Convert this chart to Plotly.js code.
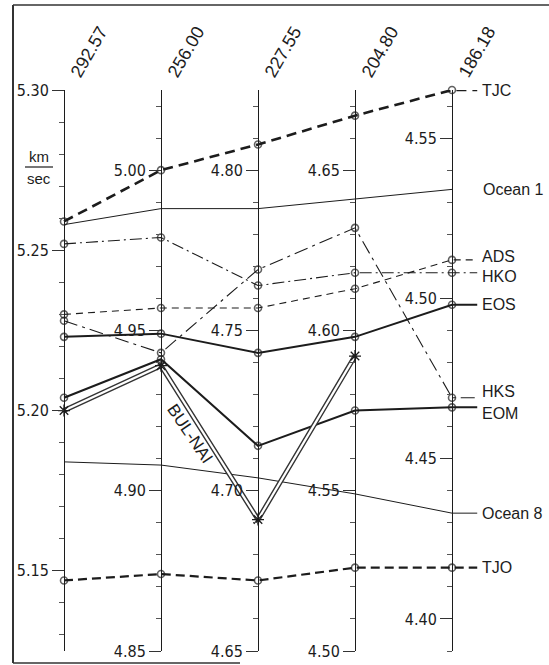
<!DOCTYPE html>
<html><head><meta charset="utf-8">
<script src="https://cdn.plot.ly/plotly-3.0.1.min.js"></script>
<style>html,body{margin:0;padding:0;background:#fff}#chart{width:549px;height:665px}</style>
</head><body><div id="chart"></div>
<script>
// category labels above each vertical scale
const periods = ['292.57', '256.00', '227.55', '204.80', '186.18'];

// values (km/sec) read on each of the five vertical scales
const TJC    = [5.259, 5.000, 4.808, 4.667, 4.565];
const Ocean1 = [5.258, 4.988, 4.788, 4.641, 4.534];
const ADS    = [5.230, 4.957, 4.757, 4.613, 4.512];
const HKO    = [5.252, 4.979, 4.764, 4.618, 4.508];
const EOS    = [5.223, 4.949, 4.743, 4.598, 4.498];
const HKS    = [5.228, 4.943, 4.769, 4.632, 4.469];
const EOM    = [5.204, 4.941, 4.714, 4.575, 4.466];
const BULNAI = [5.200, 4.939, 4.691, 4.592];
const Ocean8 = [5.184, 4.908, 4.704, 4.549, 4.433];
const TJO    = [5.147, 4.874, 4.672, 4.526, 4.416];

// each scale is the first scale shifted by this amount (same km/sec per unit length)
const axisOffset = [0, 0.275, 0.475, 0.625, 0.735];
const axis1Range = [5.125, 5.300];

const W = 549, H = 665, X0 = 64, DX = 97, TOP = 90, BOT = 651;
const xr = [-X0 / DX, (W - X0) / DX];
const dom = [1 - BOT / H, 1 - TOP / H];
const px = v => v / W, py = v => 1 - v / H;
const INK = '#1c1c1c';

function common(vals) { return vals.map((v, i) => v - axisOffset[0] + axisOffset[i]); }

const series = [
  {name: 'TJC', vals: TJC, width: 2.6, dash: '10px,6px', marker: true, conn: true},
  {name: 'Ocean 1', vals: Ocean1, width: 1, dash: 'solid', marker: false, conn: false},
  {name: 'ADS', vals: ADS, width: 1.1, dash: '7px,5px', marker: true, conn: true, shift: 3},
  {name: 'HKO', vals: HKO, width: 1.1, dash: '12px,4px,2px,4px', marker: true, conn: true, shift: -4},
  {name: 'EOS', vals: EOS, width: 2, dash: 'solid', marker: true, conn: true},
  {name: 'HKS', vals: HKS, width: 1.1, dash: '14px,5px,3px,5px', marker: true, conn: true, shift: 6},
  {name: 'EOM', vals: EOM, width: 2, dash: 'solid', marker: true, conn: true, shift: -6},
  {name: 'Ocean 8', vals: Ocean8, width: 1, dash: 'solid', marker: false, conn: true},
  {name: 'TJO', vals: TJO, width: 2.2, dash: '9px,5px', marker: true, conn: true}
];

const CONN_X = 4.26;
const traces = [];
const annotations = [];

series.forEach(s => {
  const y = common(s.vals);
  const x = s.vals.map((_, i) => i);
  if (s.conn) { x.push(CONN_X); y.push(y[y.length - 1]); }
  traces.push({
    type: 'scatter', mode: s.marker ? 'lines+markers' : 'lines', x: x, y: y,
    xaxis: 'x', yaxis: 'y', cliponaxis: false, hoverinfo: 'skip', showlegend: false,
    line: {color: INK, width: s.width, dash: s.dash},
    marker: {symbol: 'circle-open', color: INK, size: y.map((_, i) => i < s.vals.length ? 7 : 0), line: {width: 1.6, color: INK}}
  });
  annotations.push({
    x: s.conn ? CONN_X + 0.03 : 4.30, y: common(s.vals)[s.vals.length - 1], xref: 'x', yref: 'y',
    xanchor: 'left', yanchor: 'middle', showarrow: false, text: s.name, yshift: s.shift || 0,
    font: {size: 16, color: INK, family: 'Liberation Sans, Arial, sans-serif'}
  });
});

// BUL-NAI: double line (dark wide line with white core) and asterisk markers
const bx = BULNAI.map((_, i) => i), by = common(BULNAI);
traces.push({type: 'scatter', mode: 'lines', x: bx, y: by, cliponaxis: false, hoverinfo: 'skip', showlegend: false,
  line: {color: '#333', width: 5}});
traces.push({type: 'scatter', mode: 'lines', x: bx, y: by, cliponaxis: false, hoverinfo: 'skip', showlegend: false,
  line: {color: '#fff', width: 2.2}});
traces.push({type: 'scatter', mode: 'markers', x: bx, y: by, cliponaxis: false, hoverinfo: 'skip', showlegend: false,
  marker: {symbol: 'asterisk-open', size: 10, color: INK, line: {width: 1.3, color: INK}}});

function axisDef(i) {
  const off = axisOffset[i];
  const a = {
    domain: dom, range: [axis1Range[0] - off - 1e-6, axis1Range[1] - off + 1e-6],
    anchor: 'free', position: (X0 + i * DX) / W, side: 'left',
    showline: true, linecolor: INK, linewidth: 1,
    ticks: 'outside', ticklen: 12, tickwidth: 1, tickcolor: '#333',
    tickmode: 'linear', tick0: 5.0, dtick: 0.05, tickformat: '.2f',
    tickfont: {size: 16, color: INK, family: 'Liberation Sans Narrow, DejaVu Sans Condensed, Arial Narrow, sans-serif'},
    showgrid: false, zeroline: false, fixedrange: true,
    minor: {dtick: 0.01, tick0: 5.0, ticklen: 5, tickwidth: 1, tickcolor: '#555', showgrid: false, ticks: 'outside'}
  };
  if (i > 0) a.overlaying = 'y';
  return a;
}

// invisible traces so every scale has data bound to it
for (let i = 1; i < 5; i++) {
  traces.push({type: 'scatter', mode: 'markers', x: [i], y: [axis1Range[1] - axisOffset[i]], yaxis: 'y' + (i + 1),
    marker: {opacity: 0}, hoverinfo: 'skip', showlegend: false});
}

periods.forEach((p, i) => {
  annotations.push({x: i, xref: 'x', y: py(84), yref: 'paper', text: p, textangle: -60,
    xanchor: 'left', yanchor: 'bottom', showarrow: false,
    font: {size: 18, color: INK, family: 'Liberation Sans, Arial, sans-serif'}});
});

annotations.push({x: px(39), y: py(156), xref: 'paper', yref: 'paper', text: 'km', showarrow: false,
  xanchor: 'center', yanchor: 'middle', font: {size: 15, color: INK}});
annotations.push({x: px(39), y: py(178), xref: 'paper', yref: 'paper', text: 'sec', showarrow: false,
  xanchor: 'center', yanchor: 'middle', font: {size: 15, color: INK}});
annotations.push({x: px(190), y: py(433), xref: 'paper', yref: 'paper', text: 'BUL-NAI', showarrow: false,
  textangle: 56, xanchor: 'center', yanchor: 'middle', font: {size: 17, color: INK}});

const layout = {
  width: W, height: H, margin: {l: 0, r: 0, t: 0, b: 0},
  paper_bgcolor: '#fff', plot_bgcolor: 'rgba(0,0,0,0)',
  font: {family: 'Liberation Sans, Arial, sans-serif', color: INK},
  showlegend: false,
  xaxis: {range: xr, visible: false, fixedrange: true},
  yaxis: axisDef(0), yaxis2: axisDef(1), yaxis3: axisDef(2), yaxis4: axisDef(3), yaxis5: axisDef(4),
  annotations: annotations,
  shapes: [
    {type: 'line', xref: 'paper', yref: 'paper', x0: px(25), x1: px(53), y0: py(167), y1: py(167), line: {color: INK, width: 1.2}},
    {type: 'line', xref: 'paper', yref: 'paper', x0: px(13), x1: 1, y0: py(5), y1: py(5), line: {color: '#333', width: 1.5}},
    {type: 'line', xref: 'paper', yref: 'paper', x0: px(13), x1: px(13), y0: py(5), y1: py(663), line: {color: '#333', width: 2}},
    {type: 'line', xref: 'paper', yref: 'paper', x0: px(13), x1: px(240), y0: py(663), y1: py(663), line: {color: '#333', width: 1.5}}
  ]
};

Plotly.newPlot('chart', traces, layout, {staticPlot: true, displayModeBar: false});
</script>
</body></html>
